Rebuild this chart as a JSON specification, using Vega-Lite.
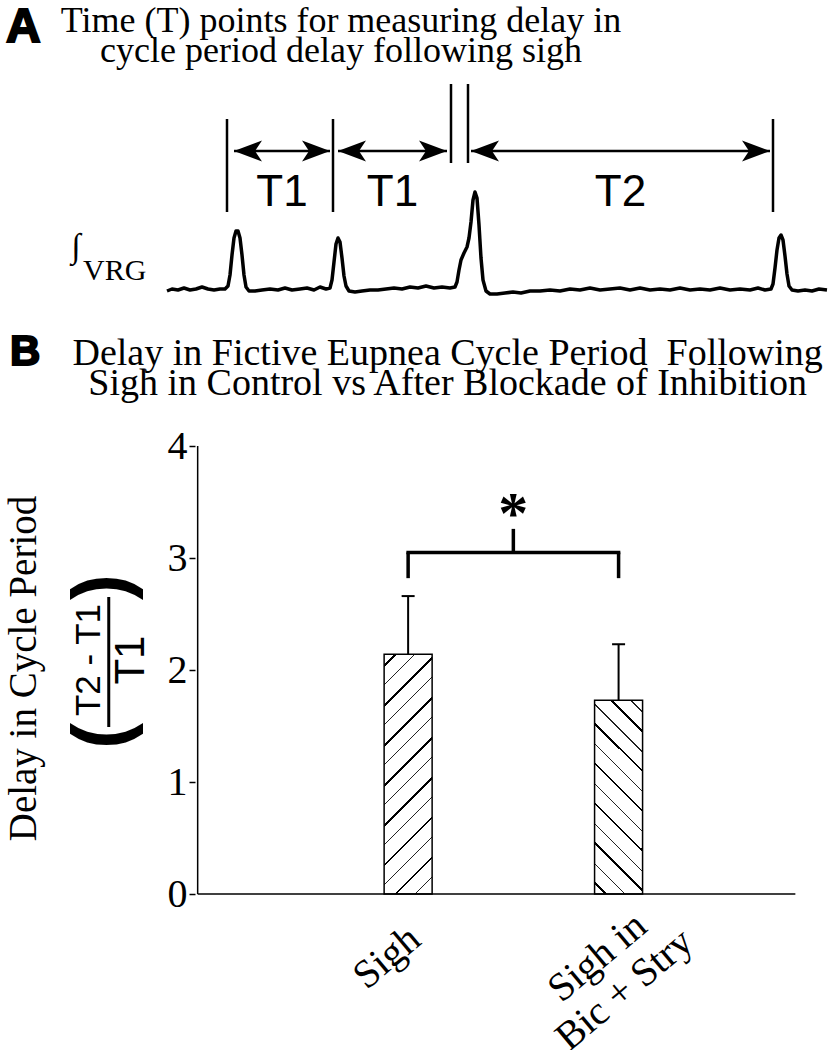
{
 "$schema": "https://vega.github.io/schema/vega-lite/v6.json",
 "width": 837,
 "height": 1050,
 "autosize": {"type": "none"},
 "padding": 0,
 "background": "white",
 "config": {"view": {"stroke": null}},
 "datasets": {
  "trace": [{"t":0,"v":-0.02},{"t":0.1,"v":0.02},{"t":0.22,"v":0},{"t":0.34,"v":0.04},{"t":0.46,"v":0},{"t":0.58,"v":0.02},{"t":0.7,"v":0.06},{"t":0.82,"v":0.02},{"t":0.94,"v":0},{"t":1.06,"v":0.02},{"t":1.16,"v":0.02},
   {"t":1.22,"v":0.08},{"t":1.26,"v":0.3},{"t":1.3,"v":0.7},{"t":1.34,"v":1.04},{"t":1.38,"v":1.18},{"t":1.42,"v":1.18},{"t":1.46,"v":1.04},{"t":1.5,"v":0.7},{"t":1.54,"v":0.3},{"t":1.58,"v":0.06},{"t":1.64,"v":-0.02},
   {"t":1.76,"v":-0.02},{"t":1.9,"v":0},{"t":2.06,"v":0.02},{"t":2.22,"v":0},{"t":2.36,"v":0.04},{"t":2.5,"v":0},{"t":2.66,"v":0.02},{"t":2.8,"v":0.04},{"t":2.94,"v":0},{"t":3.06,"v":0.06},{"t":3.18,"v":0.02},{"t":3.26,"v":0.04},
   {"t":3.3,"v":0.2},{"t":3.34,"v":0.56},{"t":3.38,"v":0.92},{"t":3.42,"v":1.04},{"t":3.46,"v":0.96},{"t":3.5,"v":0.64},{"t":3.54,"v":0.28},{"t":3.58,"v":0.08},{"t":3.64,"v":-0.02},
   {"t":3.76,"v":-0.04},{"t":3.9,"v":-0.02},{"t":4.06,"v":0},{"t":4.22,"v":0},{"t":4.38,"v":0.02},{"t":4.54,"v":0.04},{"t":4.7,"v":0.02},{"t":4.86,"v":0.06},{"t":5.02,"v":0.04},{"t":5.18,"v":0.08},{"t":5.34,"v":0.04},{"t":5.5,"v":0.06},{"t":5.66,"v":0.04},{"t":5.76,"v":0.06},
   {"t":5.8,"v":0.16},{"t":5.84,"v":0.4},{"t":5.88,"v":0.6},{"t":5.94,"v":0.74},{"t":6.0,"v":0.86},{"t":6.04,"v":1.04},{"t":6.08,"v":1.36},{"t":6.12,"v":1.8},{"t":6.16,"v":1.96},{"t":6.2,"v":1.84},{"t":6.24,"v":1.3},{"t":6.28,"v":0.64},{"t":6.32,"v":0.2},{"t":6.38,"v":-0.02},{"t":6.46,"v":-0.08},
   {"t":6.6,"v":-0.08},{"t":6.76,"v":-0.06},{"t":6.92,"v":-0.04},{"t":7.08,"v":-0.06},{"t":7.26,"v":-0.02},{"t":7.46,"v":-0.02},{"t":7.66,"v":0},{"t":7.86,"v":-0.02},{"t":8.06,"v":0.02},{"t":8.26,"v":0},{"t":8.46,"v":0.04},{"t":8.66,"v":0},{"t":8.86,"v":0.02},{"t":9.06,"v":0.04},{"t":9.26,"v":0},{"t":9.46,"v":0.04},{"t":9.66,"v":0},{"t":9.86,"v":0.02},{"t":10.06,"v":0},{"t":10.26,"v":0.04},{"t":10.46,"v":0},{"t":10.66,"v":0.02},{"t":10.86,"v":0},{"t":11.06,"v":0.04},{"t":11.26,"v":0},{"t":11.46,"v":0.02},{"t":11.66,"v":0},{"t":11.82,"v":0.04},{"t":11.96,"v":0},{"t":12.08,"v":0.02},
   {"t":12.12,"v":0.12},{"t":12.16,"v":0.44},{"t":12.2,"v":0.8},{"t":12.24,"v":1.04},{"t":12.28,"v":1.1},{"t":12.32,"v":1.0},{"t":12.36,"v":0.68},{"t":12.4,"v":0.32},{"t":12.44,"v":0.08},{"t":12.5,"v":0},
   {"t":12.62,"v":-0.02},{"t":12.76,"v":0},{"t":12.9,"v":-0.02},{"t":13.04,"v":0.02},{"t":13.2,"v":0}],
  "markers": [{"t":1.2,"kind":"cycle"},{"t":3.32,"kind":"cycle"},{"t":5.68,"kind":"sigh"},{"t":6.02,"kind":"sigh"},{"t":12.12,"kind":"cycle"}],
  "intervals": [{"label":"T1","start":1.34,"end":3.26},{"label":"T1","start":3.42,"end":5.6},{"label":"T2","start":6.08,"end":12.06}],
  "bars": [
   {"idx":1,"condition":"Sigh","label":["Sigh"],"mean":2.14,"upper":2.66},
   {"idx":2,"condition":"Sigh in Bic + Stry","label":["Sigh in","Bic + Stry"],"mean":1.73,"upper":2.23}
  ]
 },
 "layer": [
  {"layer": [
   {"data":{"name":"trace"},
    "mark":{"type":"line","color":"black","strokeWidth":3.5,"strokeJoin":"round"},
    "encoding":{
     "x":{"field":"t","type":"quantitative","scale":{"domain":[-3.34,13.4],"nice":false,"zero":false},"axis":null},
     "y":{"field":"v","type":"quantitative","scale":{"domain":[-15.2,5.8],"nice":false,"zero":false},"axis":null}}},
   {"data":{"name":"markers"},
    "transform":[{"filter":"datum.kind == 'cycle'"}],
    "mark":{"type":"rule","color":"black","strokeWidth":2.5},
    "encoding":{
     "x":{"field":"t","type":"quantitative","scale":{"domain":[-3.34,13.4],"nice":false,"zero":false},"axis":null},
     "y":{"datum":3.42,"type":"quantitative","scale":{"domain":[-15.2,5.8],"nice":false,"zero":false},"axis":null},
     "y2":{"datum":1.56}}},
   {"data":{"name":"markers"},
    "transform":[{"filter":"datum.kind == 'sigh'"}],
    "mark":{"type":"rule","color":"black","strokeWidth":2.5},
    "encoding":{
     "x":{"field":"t","type":"quantitative","scale":{"domain":[-3.34,13.4],"nice":false,"zero":false},"axis":null},
     "y":{"datum":4.12,"type":"quantitative","scale":{"domain":[-15.2,5.8],"nice":false,"zero":false},"axis":null},
     "y2":{"datum":2.54}}},
   {"data":{"name":"intervals"},
    "mark":{"type":"rule","color":"black","strokeWidth":2.5},
    "encoding":{
     "x":{"field":"start","type":"quantitative","scale":{"domain":[-3.34,13.4],"nice":false,"zero":false},"axis":null},
     "x2":{"field":"end"},
     "y":{"datum":2.78,"type":"quantitative","scale":{"domain":[-15.2,5.8],"nice":false,"zero":false},"axis":null}}},
   {"data":{"name":"intervals"},
    "mark":{"type":"point","shape":"M 0 0 L 2 -0.75 L 1.5 0 L 2 0.75 Z","size":784,"filled":true,"color":"black","opacity":1,"strokeWidth":0},
    "encoding":{
     "x":{"field":"start","type":"quantitative","scale":{"domain":[-3.34,13.4],"nice":false,"zero":false},"axis":null},
     "y":{"datum":2.78,"type":"quantitative","scale":{"domain":[-15.2,5.8],"nice":false,"zero":false},"axis":null}}},
   {"data":{"name":"intervals"},
    "mark":{"type":"point","shape":"M 0 0 L -2 -0.75 L -1.5 0 L -2 0.75 Z","size":784,"filled":true,"color":"black","opacity":1,"strokeWidth":0},
    "encoding":{
     "x":{"field":"end","type":"quantitative","scale":{"domain":[-3.34,13.4],"nice":false,"zero":false},"axis":null},
     "y":{"datum":2.78,"type":"quantitative","scale":{"domain":[-15.2,5.8],"nice":false,"zero":false},"axis":null}}},
   {"data":{"name":"intervals"},
    "transform":[{"calculate":"(datum.start + datum.end) / 2","as":"mid"}],
    "mark":{"type":"text","font":"Liberation Sans","fontSize":44,"align":"center","baseline":"middle","color":"black"},
    "encoding":{
     "x":{"field":"mid","type":"quantitative","scale":{"domain":[-3.34,13.4],"nice":false,"zero":false},"axis":null},
     "y":{"datum":1.94,"type":"quantitative","scale":{"domain":[-15.2,5.8],"nice":false,"zero":false},"axis":null},
     "text":{"field":"label"}}},
   {"data":{"values":[{}]},
    "mark":{"type":"text","text":"∫","font":"Liberation Serif","fontSize":34,"align":"center","baseline":"middle","color":"black"},
    "encoding":{
     "x":{"datum":-1.82,"type":"quantitative","scale":{"domain":[-3.34,13.4],"nice":false,"zero":false},"axis":null},
     "y":{"datum":0.86,"type":"quantitative","scale":{"domain":[-15.2,5.8],"nice":false,"zero":false},"axis":null}}},
   {"data":{"values":[{}]},
    "mark":{"type":"text","text":"VRG","font":"Liberation Serif","fontSize":30,"align":"left","baseline":"alphabetic","color":"black"},
    "encoding":{
     "x":{"datum":-1.68,"type":"quantitative","scale":{"domain":[-3.34,13.4],"nice":false,"zero":false},"axis":null},
     "y":{"datum":0.2,"type":"quantitative","scale":{"domain":[-15.2,5.8],"nice":false,"zero":false},"axis":null}}},
   {"data":{"values":[{}]},
    "mark":{"type":"text","text":"A","font":"Liberation Sans","fontWeight":"bold","fontSize":48,"align":"left","baseline":"alphabetic","color":"black","stroke":"black","strokeWidth":2},
    "encoding":{
     "x":{"datum":-3.22,"type":"quantitative","scale":{"domain":[-3.34,13.4],"nice":false,"zero":false},"axis":null},
     "y":{"datum":4.96,"type":"quantitative","scale":{"domain":[-15.2,5.8],"nice":false,"zero":false},"axis":null}}},
   {"data":{"values":[{}]},
    "mark":{"type":"text","text":["Time (T) points for measuring delay in","cycle period delay following sigh"],"font":"Liberation Serif","fontSize":36,"lineHeight":30,"align":"center","baseline":"alphabetic","color":"black"},
    "encoding":{
     "x":{"datum":3.48,"type":"quantitative","scale":{"domain":[-3.34,13.4],"nice":false,"zero":false},"axis":null},
     "y":{"datum":5.16,"type":"quantitative","scale":{"domain":[-15.2,5.8],"nice":false,"zero":false},"axis":null}}}
  ]},
  {"layer": [
   {"data":{"name":"bars"},
    "transform":[{"filter":"datum.idx == 1"}],
    "mark":{"type":"bar","orient":"vertical","width":48,"stroke":"black","strokeWidth":1.5,
     "fill":{"gradient":"linear","x1":0,"y1":0,"x2":0.2308,"y2":1.1538,"stops":[
      {"offset":0,"color":"#fff"},
      {"offset":0.035,"color":"#fff"},{"offset":0.035,"color":"#000"},{"offset":0.0448,"color":"#000"},{"offset":0.0448,"color":"#fff"},
      {"offset":0.1044,"color":"#fff"},{"offset":0.1044,"color":"#222"},{"offset":0.1094,"color":"#222"},{"offset":0.1094,"color":"#fff"},
      {"offset":0.1738,"color":"#fff"},{"offset":0.1738,"color":"#000"},{"offset":0.1836,"color":"#000"},{"offset":0.1836,"color":"#fff"},
      {"offset":0.2432,"color":"#fff"},{"offset":0.2432,"color":"#222"},{"offset":0.2482,"color":"#222"},{"offset":0.2482,"color":"#fff"},
      {"offset":0.3126,"color":"#fff"},{"offset":0.3126,"color":"#000"},{"offset":0.3224,"color":"#000"},{"offset":0.3224,"color":"#fff"},
      {"offset":0.382,"color":"#fff"},{"offset":0.382,"color":"#222"},{"offset":0.387,"color":"#222"},{"offset":0.387,"color":"#fff"},
      {"offset":0.4514,"color":"#fff"},{"offset":0.4514,"color":"#000"},{"offset":0.4612,"color":"#000"},{"offset":0.4612,"color":"#fff"},
      {"offset":0.5208,"color":"#fff"},{"offset":0.5208,"color":"#222"},{"offset":0.5258,"color":"#222"},{"offset":0.5258,"color":"#fff"},
      {"offset":0.5902,"color":"#fff"},{"offset":0.5902,"color":"#000"},{"offset":0.6,"color":"#000"},{"offset":0.6,"color":"#fff"},
      {"offset":0.6596,"color":"#fff"},{"offset":0.6596,"color":"#222"},{"offset":0.6646,"color":"#222"},{"offset":0.6646,"color":"#fff"},
      {"offset":0.729,"color":"#fff"},{"offset":0.729,"color":"#000"},{"offset":0.7388,"color":"#000"},{"offset":0.7388,"color":"#fff"},
      {"offset":0.7984,"color":"#fff"},{"offset":0.7984,"color":"#222"},{"offset":0.8034,"color":"#222"},{"offset":0.8034,"color":"#fff"},
      {"offset":0.8678,"color":"#fff"},{"offset":0.8678,"color":"#000"},{"offset":0.8776,"color":"#000"},{"offset":0.8776,"color":"#fff"},
      {"offset":0.9372,"color":"#fff"},{"offset":0.9372,"color":"#222"},{"offset":0.9422,"color":"#222"},{"offset":0.9422,"color":"#fff"},
      {"offset":1,"color":"#fff"}]}},
    "encoding":{
     "x":{"field":"idx","type":"quantitative","scale":{"domain":[-0.915493,3.014085],"nice":false,"zero":false},"axis":null},
     "y":{"field":"mean","type":"quantitative","scale":{"domain":[-1.392857,7.982143],"nice":false,"zero":false},
      "axis":{"values":[0,1,2,3,4],"format":"d","offset":-195,"domain":false,"grid":false,"ticks":true,"tickSize":6,"tickColor":"black","tickWidth":1.5,
       "labelFont":"Liberation Serif","labelFontSize":40,"labelColor":"black","labelPadding":2,"labelFlush":false,"labelOverlap":false,
       "title":"Delay in Cycle Period","titleFont":"Liberation Serif","titleFontSize":39,"titleFontWeight":"normal","titleColor":"black",
       "titleAngle":270,"titleX":-172,"titleY":668,"titleAlign":"center","titleBaseline":"middle"}}}},
   {"data":{"name":"bars"},
    "transform":[{"filter":"datum.idx == 2"}],
    "mark":{"type":"bar","orient":"vertical","width":48,"stroke":"black","strokeWidth":1.5,
     "fill":{"gradient":"linear","x1":0,"y1":1,"x2":0.2908,"y2":-0.1755,"stops":[
      {"offset":0,"color":"#fff"},
      {"offset":0.04,"color":"#fff"},{"offset":0.04,"color":"#000"},{"offset":0.0517,"color":"#000"},{"offset":0.0517,"color":"#fff"},
      {"offset":0.1226,"color":"#fff"},{"offset":0.1226,"color":"#222"},{"offset":0.1284,"color":"#222"},{"offset":0.1284,"color":"#fff"},
      {"offset":0.2052,"color":"#fff"},{"offset":0.2052,"color":"#000"},{"offset":0.2169,"color":"#000"},{"offset":0.2169,"color":"#fff"},
      {"offset":0.2878,"color":"#fff"},{"offset":0.2878,"color":"#222"},{"offset":0.2936,"color":"#222"},{"offset":0.2936,"color":"#fff"},
      {"offset":0.3704,"color":"#fff"},{"offset":0.3704,"color":"#000"},{"offset":0.3821,"color":"#000"},{"offset":0.3821,"color":"#fff"},
      {"offset":0.453,"color":"#fff"},{"offset":0.453,"color":"#222"},{"offset":0.4588,"color":"#222"},{"offset":0.4588,"color":"#fff"},
      {"offset":0.5356,"color":"#fff"},{"offset":0.5356,"color":"#000"},{"offset":0.5473,"color":"#000"},{"offset":0.5473,"color":"#fff"},
      {"offset":0.6182,"color":"#fff"},{"offset":0.6182,"color":"#222"},{"offset":0.624,"color":"#222"},{"offset":0.624,"color":"#fff"},
      {"offset":0.7008,"color":"#fff"},{"offset":0.7008,"color":"#000"},{"offset":0.7125,"color":"#000"},{"offset":0.7125,"color":"#fff"},
      {"offset":0.7834,"color":"#fff"},{"offset":0.7834,"color":"#222"},{"offset":0.7892,"color":"#222"},{"offset":0.7892,"color":"#fff"},
      {"offset":0.866,"color":"#fff"},{"offset":0.866,"color":"#000"},{"offset":0.8777,"color":"#000"},{"offset":0.8777,"color":"#fff"},
      {"offset":0.9486,"color":"#fff"},{"offset":0.9486,"color":"#222"},{"offset":0.9544,"color":"#222"},{"offset":0.9544,"color":"#fff"},
      {"offset":1,"color":"#fff"}]}},
    "encoding":{
     "x":{"field":"idx","type":"quantitative","scale":{"domain":[-0.915493,3.014085],"nice":false,"zero":false},"axis":null},
     "y":{"field":"mean","type":"quantitative","scale":{"domain":[-1.392857,7.982143],"nice":false,"zero":false}}}},
   {"data":{"name":"bars"},
    "mark":{"type":"rule","color":"black","strokeWidth":2},
    "encoding":{
     "x":{"field":"idx","type":"quantitative","scale":{"domain":[-0.915493,3.014085],"nice":false,"zero":false},"axis":null},
     "y":{"field":"mean","type":"quantitative","scale":{"domain":[-1.392857,7.982143],"nice":false,"zero":false}},
     "y2":{"field":"upper"}}},
   {"data":{"name":"bars"},
    "mark":{"type":"tick","orient":"horizontal","color":"black","size":13,"thickness":2,"opacity":1},
    "encoding":{
     "x":{"field":"idx","type":"quantitative","scale":{"domain":[-0.915493,3.014085],"nice":false,"zero":false},"axis":null},
     "y":{"field":"upper","type":"quantitative","scale":{"domain":[-1.392857,7.982143],"nice":false,"zero":false}}}},
   {"data":{"name":"bars"},
    "mark":{"type":"text","font":"Liberation Serif","fontSize":40,"lineHeight":42,"angle":320,"align":"center","baseline":"middle","color":"black","radius":67,"theta":3.461},
    "encoding":{
     "x":{"field":"idx","type":"quantitative","scale":{"domain":[-0.915493,3.014085],"nice":false,"zero":false},"axis":null},
     "y":{"datum":0,"type":"quantitative","scale":{"domain":[-1.392857,7.982143],"nice":false,"zero":false}},
     "text":{"field":"label"}}},
   {"data":{"values":[{}]},
    "mark":{"type":"rule","color":"black","strokeWidth":1.5},
    "encoding":{
     "x":{"datum":0,"type":"quantitative","scale":{"domain":[-0.915493,3.014085],"nice":false,"zero":false},"axis":null},
     "x2":{"datum":2.84},
     "y":{"datum":0,"type":"quantitative","scale":{"domain":[-1.392857,7.982143],"nice":false,"zero":false}}}},
   {"data":{"values":[{}]},
    "mark":{"type":"rule","color":"black","strokeWidth":1.5},
    "encoding":{
     "x":{"datum":0,"type":"quantitative","scale":{"domain":[-0.915493,3.014085],"nice":false,"zero":false},"axis":null},
     "y":{"datum":0,"type":"quantitative","scale":{"domain":[-1.392857,7.982143],"nice":false,"zero":false}},
     "y2":{"datum":4}}},
   {"data":{"values":[{}]},
    "mark":{"type":"rule","color":"black","strokeWidth":3.5,"strokeCap":"square"},
    "encoding":{
     "x":{"datum":1,"type":"quantitative","scale":{"domain":[-0.915493,3.014085],"nice":false,"zero":false},"axis":null},
     "x2":{"datum":2},
     "y":{"datum":3.05,"type":"quantitative","scale":{"domain":[-1.392857,7.982143],"nice":false,"zero":false}}}},
   {"data":{"name":"bars"},
    "mark":{"type":"rule","color":"black","strokeWidth":3.5},
    "encoding":{
     "x":{"field":"idx","type":"quantitative","scale":{"domain":[-0.915493,3.014085],"nice":false,"zero":false},"axis":null},
     "y":{"datum":2.82,"type":"quantitative","scale":{"domain":[-1.392857,7.982143],"nice":false,"zero":false}},
     "y2":{"datum":3.05}}},
   {"data":{"values":[{}]},
    "mark":{"type":"rule","color":"black","strokeWidth":3.5},
    "encoding":{
     "x":{"datum":1.5,"type":"quantitative","scale":{"domain":[-0.915493,3.014085],"nice":false,"zero":false},"axis":null},
     "y":{"datum":3.05,"type":"quantitative","scale":{"domain":[-1.392857,7.982143],"nice":false,"zero":false}},
     "y2":{"datum":3.26}}},
   {"data":{"values":[{}]},
    "mark":{"type":"text","text":"*","font":"Liberation Serif","fontWeight":"bold","fontSize":60,"align":"center","baseline":"alphabetic","color":"black"},
    "encoding":{
     "x":{"datum":1.5,"type":"quantitative","scale":{"domain":[-0.915493,3.014085],"nice":false,"zero":false},"axis":null},
     "y":{"datum":3.22,"type":"quantitative","scale":{"domain":[-1.392857,7.982143],"nice":false,"zero":false}}}},
   {"data":{"values":[{}]},
    "mark":{"type":"text","text":"T2 - T1","font":"Liberation Sans","fontSize":35,"angle":270,"align":"center","baseline":"middle","color":"black"},
    "encoding":{
     "x":{"datum":-0.514,"type":"quantitative","scale":{"domain":[-0.915493,3.014085],"nice":false,"zero":false},"axis":null},
     "y":{"datum":2.089,"type":"quantitative","scale":{"domain":[-1.392857,7.982143],"nice":false,"zero":false}}}},
   {"data":{"values":[{}]},
    "mark":{"type":"text","text":"T1","font":"Liberation Sans","fontSize":42,"angle":270,"align":"center","baseline":"middle","color":"black"},
    "encoding":{
     "x":{"datum":-0.317,"type":"quantitative","scale":{"domain":[-0.915493,3.014085],"nice":false,"zero":false},"axis":null},
     "y":{"datum":2.089,"type":"quantitative","scale":{"domain":[-1.392857,7.982143],"nice":false,"zero":false}}}},
   {"data":{"values":[{}]},
    "mark":{"type":"rule","color":"black","strokeWidth":3},
    "encoding":{
     "x":{"datum":-0.4225,"type":"quantitative","scale":{"domain":[-0.915493,3.014085],"nice":false,"zero":false},"axis":null},
     "y":{"datum":1.491,"type":"quantitative","scale":{"domain":[-1.392857,7.982143],"nice":false,"zero":false}},
     "y2":{"datum":2.652}}},
   {"data":{"values":[{}]},
    "mark":{"type":"text","text":"(","font":"Liberation Sans","fontWeight":"bold","fontSize":78,"angle":270,"align":"center","baseline":"middle","color":"black"},
    "encoding":{
     "x":{"datum":-0.4437,"type":"quantitative","scale":{"domain":[-0.915493,3.014085],"nice":false,"zero":false},"axis":null},
     "y":{"datum":1.411,"type":"quantitative","scale":{"domain":[-1.392857,7.982143],"nice":false,"zero":false}}}},
   {"data":{"values":[{}]},
    "mark":{"type":"text","text":")","font":"Liberation Sans","fontWeight":"bold","fontSize":78,"angle":270,"align":"center","baseline":"middle","color":"black"},
    "encoding":{
     "x":{"datum":-0.4437,"type":"quantitative","scale":{"domain":[-0.915493,3.014085],"nice":false,"zero":false},"axis":null},
     "y":{"datum":2.741,"type":"quantitative","scale":{"domain":[-1.392857,7.982143],"nice":false,"zero":false}}}},
   {"data":{"values":[{}]},
    "mark":{"type":"text","text":"B","font":"Liberation Sans","fontWeight":"bold","fontSize":42,"align":"left","baseline":"alphabetic","color":"black","stroke":"black","strokeWidth":2},
    "encoding":{
     "x":{"datum":-0.892,"type":"quantitative","scale":{"domain":[-0.915493,3.014085],"nice":false,"zero":false},"axis":null},
     "y":{"datum":4.723,"type":"quantitative","scale":{"domain":[-1.392857,7.982143],"nice":false,"zero":false}}}},
   {"data":{"values":[{}]},
    "mark":{"type":"text","text":["Delay in Fictive Eupnea Cycle Period \u00a0Following","Sigh in Control vs After Blockade of Inhibition"],"font":"Liberation Serif","fontSize":38,"lineHeight":30,"align":"center","baseline":"alphabetic","color":"black"},
    "encoding":{
     "x":{"datum":1.188,"type":"quantitative","scale":{"domain":[-0.915493,3.014085],"nice":false,"zero":false},"axis":null},
     "y":{"datum":4.723,"type":"quantitative","scale":{"domain":[-1.392857,7.982143],"nice":false,"zero":false}}}}
  ]}
 ],
 "resolve": {"scale": {"x": "independent", "y": "independent"}}
}
